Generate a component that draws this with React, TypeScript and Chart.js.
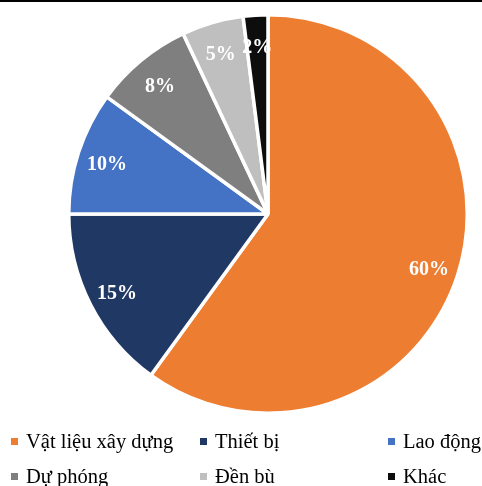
import React, { useEffect, useRef } from "react";
import { Chart, registerables } from "chart.js";

Chart.register(...registerables);

const categories = ["Vật liệu xây dựng", "Thiết bị", "Lao động", "Dự phóng", "Đền bù", "Khác"];
const shares = [60, 15, 10, 8, 5, 2];
const sliceColors = ["#ED7D31", "#203864", "#4472C4", "#7F7F7F", "#BFBFBF", "#0D0D0D"];

const labelPlugin = {
  id: "sliceLabels",
  afterDatasetsDraw(chart: any) {
    const ctx = chart.ctx;
    const meta = chart.getDatasetMeta(0);
    ctx.save();
    ctx.fillStyle = "#FFFFFF";
    ctx.font = "bold 20px 'Liberation Serif', serif";
    ctx.textAlign = "center";
    ctx.textBaseline = "middle";
    meta.data.forEach((arc: any, i: number) => {
      const mid = (arc.startAngle + arc.endAngle) / 2;
      const r = arc.outerRadius * 0.85;
      const x = arc.x + Math.cos(mid) * r;
      const y = arc.y + Math.sin(mid) * r + 3;
      ctx.fillText(shares[i] + "%", x, y);
    });
    ctx.restore();
  },
};

const legendCols = [11, 200, 388];
const legendRows = [441, 476];

export default function App() {
  const ref = useRef<HTMLCanvasElement | null>(null);
  useEffect(() => {
    document.body.style.margin = "0";
    const chart = new Chart(ref.current as HTMLCanvasElement, {
      type: "pie",
      data: {
        labels: categories,
        datasets: [
          {
            data: shares,
            backgroundColor: sliceColors,
            borderColor: "#FFFFFF",
            borderWidth: 3.5,
          },
        ],
      },
      options: {
        responsive: false,
        animation: false,
        rotation: 0,
        layout: { padding: { left: 67, right: 13, top: 13, bottom: 71 } },
        plugins: {
          legend: { display: false },
          tooltip: { enabled: false },
        },
      },
      plugins: [labelPlugin],
    });
    return () => chart.destroy();
  }, []);

  return (
    <div style={{ position: "relative", width: 482, height: 486, background: "#fff", overflow: "hidden" }}>
      <canvas ref={ref} width={482} height={486} style={{ position: "absolute", left: 0, top: 0 }} />
      <div style={{ position: "absolute", left: 0, top: 0, width: 482, height: 2, background: "#000" }} />
      {categories.map((c, i) => {
        const col = i % 3;
        const row = Math.floor(i / 3);
        return (
          <div
            key={c}
            style={{
              position: "absolute",
              left: legendCols[col],
              top: legendRows[row] - 12,
              height: 24,
              display: "flex",
              alignItems: "center",
              whiteSpace: "nowrap",
              fontFamily: "'Liberation Serif', serif",
              fontSize: 20.5,
              color: "#000",
            }}
          >
            <span style={{ display: "inline-block", width: 7, height: 7, background: sliceColors[i], marginRight: 8 }} />
            <span>{c}</span>
          </div>
        );
      })}
    </div>
  );
}
